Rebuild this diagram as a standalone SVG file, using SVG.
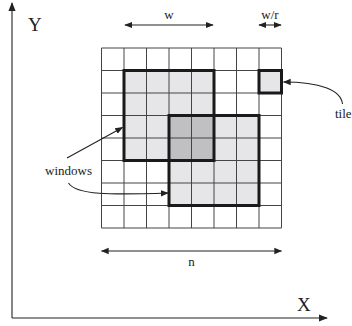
<svg xmlns="http://www.w3.org/2000/svg" width="352" height="326" viewBox="0 0 352 326">
<defs>
<marker id="ah" viewBox="0 0 10 10" refX="9" refY="5" markerWidth="9" markerHeight="9" markerUnits="userSpaceOnUse" orient="auto-start-reverse">
<path d="M0,1 L10,5 L0,9 z" fill="#222"/>
</marker>
<marker id="ahs" viewBox="0 0 10 10" refX="9" refY="5" markerWidth="8" markerHeight="8" markerUnits="userSpaceOnUse" orient="auto-start-reverse">
<path d="M0,1 L10,5 L0,9 z" fill="#222"/>
</marker>
</defs>
<style>
.t{font-family:"Liberation Serif","Times New Roman",serif;fill:#222}
.sm{font-size:13px}
.lg{font-size:19px}
.grid{stroke:#444;stroke-width:1;fill:none}
.thick{stroke:#1a1a1a;stroke-width:3}
.ln{stroke:#222;stroke-width:1.1;fill:none}
</style>
<rect width="352" height="326" fill="#fff"/>
<g id="window1"><rect x="124" y="70.5" width="90" height="90" fill="#e6e6e8"/></g>
<g id="window2"><rect x="169" y="115.5" width="90" height="90" fill="#e6e6e8"/></g>
<g id="overlap"><rect x="169" y="115.5" width="45" height="45" fill="#c0c0c2"/></g>
<g id="tile"><rect x="259" y="70.5" width="22.5" height="22.5" fill="#e6e6e8"/></g>
<g id="grid" class="grid">
<path d="M101.5,48V228M124,48V228M146.5,48V228M169,48V228M191.5,48V228M214,48V228M236.5,48V228M259,48V228M281.5,48V228"/>
<path d="M101.5,48H281.5M101.5,70.5H281.5M101.5,93H281.5M101.5,115.5H281.5M101.5,138H281.5M101.5,160.5H281.5M101.5,183H281.5M101.5,205.5H281.5M101.5,228H281.5"/>
</g>
<g id="borders" fill="none" class="thick">
<rect x="124" y="70.5" width="90" height="90"/>
<rect x="169" y="115.5" width="90" height="90"/>
<rect x="259" y="70.5" width="22.5" height="22.5"/>
</g>
<g id="connectors">
<line class="ln" x1="12" y1="318" x2="12" y2="3" marker-end="url(#ah)"/>
<line class="ln" x1="12" y1="318" x2="327" y2="318" marker-end="url(#ah)"/>
<line class="ln" x1="125" y1="25" x2="213" y2="25" marker-start="url(#ahs)" marker-end="url(#ahs)"/>
<line class="ln" x1="259" y1="25" x2="281" y2="25" marker-start="url(#ahs)" marker-end="url(#ahs)"/>
<line class="ln" x1="101.5" y1="251" x2="281.5" y2="251" marker-start="url(#ahs)" marker-end="url(#ahs)"/>
<path class="ln" d="M342.5,104 C341,90 320,82 283.5,82" marker-end="url(#ahs)"/>
<line class="ln" x1="67" y1="158" x2="122.5" y2="127.5" marker-end="url(#ahs)"/>
<path class="ln" d="M68.5,183 C76,195 110,195 168,193" marker-end="url(#ahs)"/>
</g>
<g id="labels">
<text class="t lg" x="28" y="31">Y</text>
<text class="t lg" x="297" y="311">X</text>
<text class="t sm" x="169" y="19" text-anchor="middle">w</text>
<text class="t sm" x="270" y="19" text-anchor="middle">w/r</text>
<text class="t sm" x="191.5" y="266" text-anchor="middle">n</text>
<text class="t sm" x="335" y="118">tile</text>
<text class="t sm" x="45" y="175">windows</text>
</g>
</svg>
